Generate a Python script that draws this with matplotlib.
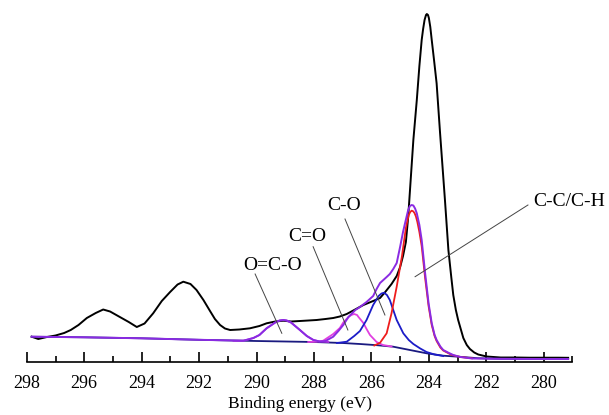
import matplotlib.pyplot as plt
from matplotlib.ticker import MultipleLocator

plt.rcParams['font.family'] = ['Liberation Serif', 'DejaVu Serif']

# C 1s spectrum (binding energy in eV, intensity in a.u.)
raw_be = [297.83, 297.6, 297.3, 297.0, 296.7, 296.47, 296.2, 295.91, 295.6, 295.34,
          295.1, 294.76, 294.45, 294.17, 293.9, 293.6, 293.3, 293.01, 292.75, 292.55,
          292.3, 292.09, 291.85, 291.62, 291.45, 291.27, 291.1, 290.92, 290.6, 290.23,
          289.9, 289.65, 289.35, 289.07, 288.8, 288.49, 288.2, 287.91, 287.6, 287.33,
          287.1, 286.86, 286.6, 286.28, 285.94, 285.7, 285.52, 285.3, 285.12, 285.0,
          284.9, 284.8, 284.72, 284.65, 284.54, 284.42, 284.33, 284.25, 284.2, 284.15,
          284.1, 284.07, 284.03, 284.0, 283.95, 283.9, 283.82, 283.73, 283.61, 283.44,
          283.32, 283.22, 283.15, 283.06, 282.98, 282.8, 282.68, 282.57, 282.42, 282.28,
          281.99, 281.5, 281.0, 280.5, 280.0, 279.5, 279.15]
raw_int = [25.3, 23, 25, 26.5, 29, 32, 37, 44, 49, 52.5,
           50.5, 45, 40, 35, 38.5, 48.7, 61, 70, 77.5, 80.3,
           78, 72, 62, 51, 43, 37, 33.5, 32, 32.5, 33.7,
           36, 38.7, 40.5, 41.3, 40.5, 41, 41.5, 42, 43, 44,
           45.5, 48, 52, 57, 61, 64, 70, 78, 86, 95,
           106, 120, 145, 175, 222, 262, 296, 322, 333, 342,
           347, 348, 347, 344, 335, 322, 302, 278.7, 229, 162,
           112, 85, 67, 52, 42, 24, 17, 13, 9.5, 7.5,
           5.5, 4.5, 4.5, 4.3, 4.3, 4.3, 4.2]

# Shirley background
bg_be = [297.83, 296, 294, 292, 290, 288, 287, 286.4, 285.8, 285.24,
         284.66, 284.08, 283.5, 282.92, 282.3, 281.5, 280, 279.15]
bg_int = [25.3, 24.7, 23.7, 22.2, 21, 20, 19, 18, 16.8, 15.3,
          12, 8.7, 6.3, 5.2, 3.8, 3.2, 3, 3]

# fitted envelope
env_be = [297.83, 296, 294, 292, 290.46, 290.3, 290.11, 289.9, 289.65, 289.35,
          289.2, 289.07, 288.95, 288.8, 288.49, 288.25, 288.02, 287.8, 287.6, 287.33,
          287.15, 286.98, 286.8, 286.56, 286.4, 286.17, 285.94, 285.82, 285.7, 285.47,
          285.36, 285.24, 285.12, 285.0, 284.9, 284.83, 284.77, 284.72, 284.66, 284.6,
          284.54, 284.48, 284.42, 284.33, 284.25, 284.13, 284.01, 283.9, 283.8, 283.73,
          283.6, 283.5, 283.3, 283.15, 282.9, 282.5, 281.5, 280, 279.15]
env_int = [25.3, 24.7, 23.7, 22.2, 21.3, 22.5, 24, 27, 33.7, 39.5,
           41.5, 42, 41.5, 39.5, 32, 26, 22, 20.5, 21, 25.3,
           31, 37, 45, 52, 55, 60, 66, 73, 79, 85,
           88, 93, 99, 115.3, 130, 138.7, 146, 152, 156, 157,
           156.5, 153.5, 148.7, 137, 122, 88.7, 58.7, 38.7, 27, 22,
           15.5, 12, 9, 7, 5, 3.5, 3.2, 3, 3]

# C-C/C-H component
cc_be = [285.9, 285.7, 285.47, 285.3, 285.12, 284.94, 284.8, 284.75, 284.7, 284.65,
         284.6, 284.55, 284.5, 284.45, 284.4, 284.33, 284.25, 284.13, 284.01, 283.9,
         283.8, 283.73, 283.6, 283.5, 283.2, 282.9, 282.5]
cc_int = [16.5, 19.2, 28.7, 48.7, 75.3, 105.3, 134, 141, 147, 150,
          151.3, 150.8, 149, 145.5, 140, 130, 116, 84, 56, 37,
          26, 21, 14.5, 11.5, 7, 5, 3.7]

# C-O component
co_be = [287.2, 286.86, 286.6, 286.4, 286.17, 285.94, 285.75, 285.65, 285.56, 285.46,
         285.36, 285.12, 284.89, 284.7, 284.54, 284.3, 284.08, 283.8, 283.5]
co_int = [19, 20.3, 26, 31, 42, 57, 66, 68.5, 69.3, 67,
          62, 42, 28.7, 22, 18, 13.5, 10, 7.5, 6]

# C=O component
cdo_be = [288.2, 287.9, 287.68, 287.33, 287.1, 286.98, 286.8, 286.7, 286.6, 286.5,
          286.45, 286.28, 286.17, 286.05, 285.82, 285.6, 285.3]
cdo_int = [20, 20.3, 21.3, 28, 34, 39.5, 45, 47, 48, 47,
           45, 39, 33, 27, 20, 17, 15.5]

# O=C-O component
occo_be = [290.8, 290.46, 290.3, 290.11, 289.9, 289.65, 289.35, 289.2, 289.07, 288.95,
           288.8, 288.49, 288.25, 288.02, 287.8, 287.5]
occo_int = [21.2, 21.3, 22.5, 24, 27, 33.7, 39.5, 41.5, 42, 41.5,
            39.5, 32, 26, 22, 20.5, 20]

# peak labels: text position, leader start, leader end
labels = ['C-C/C-H', 'C-O', 'C=O', 'O=C-O']
label_xy = [(279.12, 160.3), (286.97, 157), (288.25, 125.3), (289.44, 97)]
leader_from = [(280.55, 157), (286.92, 143), (288.03, 115.3), (290.05, 88)]
leader_to = [(284.48, 85.3), (285.53, 47), (286.82, 32), (289.12, 28.7)]

fig = plt.figure(figsize=(6.09, 4.15), dpi=100)
ax = fig.add_axes([0.044, 0.1277, 0.896, 0.853])

ax.plot(raw_be, raw_int, color='black', lw=1.4, zorder=2)
ax.plot(bg_be, bg_int, color='#1a1a80', lw=1.3, zorder=3)
ax.plot(occo_be, occo_int, color='#b030e0', lw=1.3, zorder=3)
ax.plot(cdo_be, cdo_int, color='#e040e0', lw=1.3, zorder=3)
ax.plot(co_be, co_int, color='#1c1cc8', lw=1.3, zorder=3)
ax.plot(cc_be, cc_int, color='#ee1c1c', lw=1.3, zorder=3)
ax.plot(env_be, env_int, color='#8a2be2', lw=1.4, zorder=4)

for name, xy, p0, p1 in zip(labels, label_xy, leader_from, leader_to):
    ax.text(xy[0], xy[1], name, fontsize=14, ha='center', va='center', clip_on=False)
    ax.plot([p0[0], p1[0]], [p0[1], p1[1]], color='#444444', lw=0.7, zorder=5)

ax.set_xlim(298, 279)
ax.set_ylim(0, 354)
ax.xaxis.set_major_locator(MultipleLocator(2))
ax.xaxis.set_minor_locator(MultipleLocator(1))
ax.tick_params(axis='x', which='major', direction='in', length=7, width=1.2,
               labelsize=13, pad=9)
ax.tick_params(axis='x', which='minor', direction='in', length=4, width=1.2)
ax.set_yticks([])
for side in ['left', 'right', 'top']:
    ax.spines[side].set_visible(False)
ax.spines['bottom'].set_linewidth(1.2)
ax.set_xlabel('Binding energy (eV)', fontsize=12.5, labelpad=3)

fig.savefig('out.png', dpi=100)
